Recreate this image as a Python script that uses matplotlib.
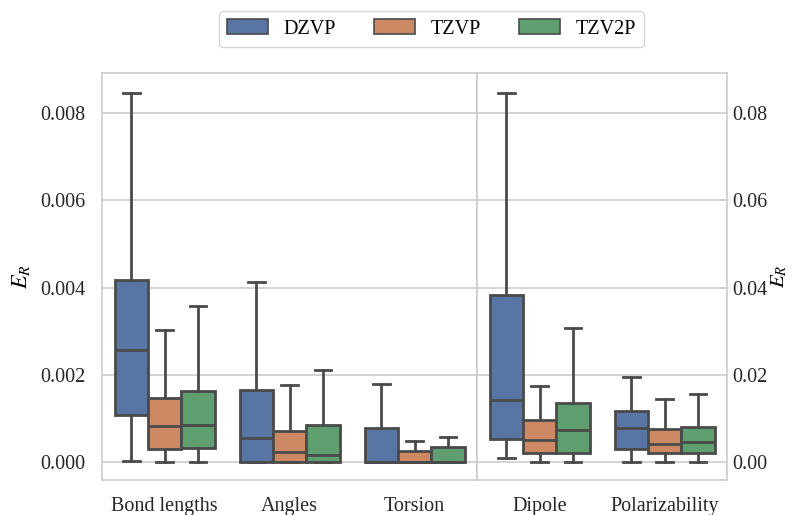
import matplotlib.pyplot as plt
from matplotlib.patches import Patch

plt.rcParams["font.family"] = ["Liberation Serif", "DejaVu Serif"]
plt.rcParams["mathtext.fontset"] = "stix"
plt.rcParams["font.size"] = 14.5

basis_sets = ["DZVP", "TZVP", "TZV2P"]
colors = ["#5875A4", "#CC8963", "#5F9E6E"]
line_color = "#4a4a4a"

# geometry errors (left axis)
geom_props = ["Bond lengths", "Angles", "Torsion"]
# per property, per basis set: [whislo, q1, median, q3, whishi]
geom_stats = {
    "Bond lengths": [[0.00002, 0.00108, 0.00258, 0.00417, 0.00846],
                     [0.0, 0.00030, 0.00083, 0.00146, 0.00303],
                     [0.0, 0.00031, 0.00085, 0.00163, 0.00358]],
    "Angles":       [[0.0, 0.0, 0.00054, 0.00165, 0.00413],
                     [0.0, 0.0, 0.00022, 0.00071, 0.00177],
                     [0.0, 0.0, 0.00015, 0.00085, 0.00211]],
    "Torsion":      [[0.0, 0.0, 0.0, 0.00079, 0.00179],
                     [0.0, 0.0, 0.0, 0.00025, 0.00047],
                     [0.0, 0.0, 0.0, 0.00035, 0.00057]],
}

# response property errors (right axis)
resp_props = ["Dipole", "Polarizability"]
resp_stats = {
    "Dipole":         [[0.00084, 0.00528, 0.0142, 0.0383, 0.0846],
                       [0.0, 0.0020, 0.0050, 0.0096, 0.0175],
                       [0.0, 0.0021, 0.0073, 0.0136, 0.0307]],
    "Polarizability": [[0.0, 0.0030, 0.0077, 0.0117, 0.0196],
                       [0.0, 0.0021, 0.0041, 0.0075, 0.0144],
                       [0.0, 0.0020, 0.0045, 0.0080, 0.0155]],
}

geom_ticks = [0.000, 0.002, 0.004, 0.006, 0.008]
resp_ticks = [0.00, 0.02, 0.04, 0.06, 0.08]


def draw_group(ax, props, stats):
    width = 0.8 / len(basis_sets)
    for i, prop in enumerate(props):
        for j, vals in enumerate(stats[prop]):
            lo, q1, med, q3, hi = vals
            pos = i - 0.4 + width * (j + 0.5)
            ax.bxp([dict(whislo=lo, q1=q1, med=med, q3=q3, whishi=hi, fliers=[])],
                   positions=[pos], widths=width, patch_artist=True,
                   showfliers=False, manage_ticks=False,
                   boxprops=dict(facecolor=colors[j], edgecolor=line_color, linewidth=2),
                   medianprops=dict(color=line_color, linewidth=2),
                   whiskerprops=dict(color=line_color, linewidth=2),
                   capprops=dict(color=line_color, linewidth=2),
                   capwidths=width / 2)
    ax.set_xticks(range(len(props)))
    ax.set_xticklabels(props)
    ax.set_xlim(-0.5, len(props) - 0.5)


fig = plt.figure(figsize=(7.92, 5.15), dpi=100)
gs = fig.add_gridspec(1, 2, width_ratios=[3, 2], wspace=0,
                      left=0.1288, right=0.918, top=0.858, bottom=0.068)
ax1 = fig.add_subplot(gs[0])
ax2 = fig.add_subplot(gs[1])

draw_group(ax1, geom_props, geom_stats)
draw_group(ax2, resp_props, resp_stats)

ax1.set_ylim(-0.000413, 0.00892)
ax2.set_ylim(-0.00413, 0.0892)
ax1.set_yticks(geom_ticks)
ax1.set_yticklabels([f"{t:.3f}" for t in geom_ticks])
ax2.set_yticks(resp_ticks)
ax2.set_yticklabels([f"{t:.2f}" for t in resp_ticks])
ax2.yaxis.tick_right()
ax2.yaxis.set_label_position("right")
ax1.set_ylabel("$E_R$", fontsize=16, labelpad=6)
ax2.set_ylabel("$E_R$", fontsize=15, labelpad=1)

for ax in (ax1, ax2):
    ax.set_axisbelow(True)
    ax.grid(axis="y", color="#cccccc", linewidth=1.2)
    for s in ax.spines.values():
        s.set_color("#cccccc")
        s.set_linewidth(1.2)
    ax.tick_params(length=0, colors="#262626")
    ax.tick_params(axis="x", pad=12)
ax1.tick_params(axis="y", pad=12)
ax2.tick_params(axis="y", pad=4)

handles = [Patch(facecolor=c, edgecolor=line_color, linewidth=1.2, label=b)
           for b, c in zip(basis_sets, colors)]
leg = fig.legend(handles=handles, loc="center", bbox_to_anchor=(0.545, 0.944),
                 ncol=3, handlelength=2.0, handleheight=0.75, columnspacing=1.9,
                 handletextpad=0.8, frameon=True, fancybox=True)
leg.get_frame().set_edgecolor("#cccccc")

fig.savefig("out.png", dpi=100)
